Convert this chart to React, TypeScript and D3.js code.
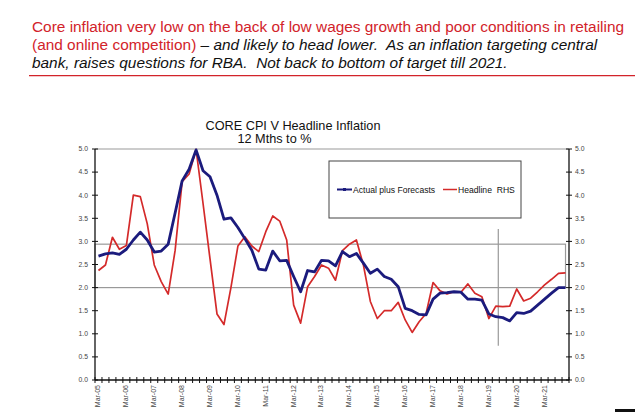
import React from "react";
import * as d3 from "d3";

const years = d3.range(2005, 2022);
const months = ["Mar", "Jun", "Sep", "Dec"];
const quarters: string[] = years.flatMap((y) => months.map((m) => `${m}-${String(y).slice(2)}`));

const coreCPI = [
  2.68, 2.73, 2.75, 2.72, 2.83, 3.03, 3.2, 3.03, 2.77, 2.79,
  2.94, 3.62, 4.31, 4.56, 4.98, 4.53, 4.4, 4.0, 3.48, 3.51,
  3.3, 3.06, 2.81, 2.4, 2.38, 2.79, 2.58, 2.59, 2.24, 1.91,
  2.37, 2.34, 2.59, 2.58, 2.47, 2.78, 2.67, 2.74, 2.53, 2.31,
  2.4, 2.24, 2.18, 2.02, 1.55, 1.5, 1.42, 1.41, 1.75, 1.88,
  1.89, 1.91, 1.9, 1.75, 1.75, 1.73, 1.43, 1.37, 1.35, 1.28,
  1.46, 1.44, 1.49, 1.62, 1.75, 1.88, 2.0, 2.0,
];

const headline = [
  2.37, 2.49, 3.09, 2.83, 2.91, 4.0, 3.97, 3.38, 2.49, 2.13,
  1.86, 2.81, 4.29, 4.46, 4.99, 3.82, 2.62, 1.43, 1.2, 2.0,
  2.9, 3.1, 2.9, 2.78, 3.21, 3.55, 3.44, 3.03, 1.62, 1.23,
  2.02, 2.24, 2.49, 2.42, 2.16, 2.8, 2.94, 3.03, 2.49, 1.7,
  1.33, 1.5, 1.5, 1.68, 1.3, 1.03, 1.26, 1.44, 2.11, 1.93,
  1.86, 1.91, 1.9, 2.08, 1.88, 1.8, 1.33, 1.6, 1.59, 1.6,
  1.97, 1.71, 1.77, 1.91, 2.06, 2.18, 2.31, 2.32,
];

const yTicks = [0, 0.5, 1, 1.5, 2, 2.5, 3, 3.5, 4, 4.5, 5];
const targetBand = [2.0, 2.94];
const forecastStart = "Sep-19";
const forecastLineRange = [0.74, 3.27];

const chartTitle = "CORE CPI V Headline Inflation";
const chartSubtitle = "12 Mths to %";
const seriesNames = ["Actual plus Forecasts", "Headline\u00A0\u00A0RHS"];

const RED = "#d2232a";
const NAVY = "#1b1b7d";
const HRED = "#d42a2a";
const FONT = "'Liberation Sans', Arial, sans-serif";

export default function App() {
  const W = 635, H = 412;
  const left = 95, right = 569, top = 149, bottom = 380;
  const x = d3.scaleBand<string>().domain(quarters).range([left, right]);
  const bw = x.bandwidth();
  const cx = (q: string) => (x(q) as number) + bw / 2;
  const y = d3.scaleLinear().domain([0, 5]).range([bottom, top]);

  const line = d3
    .line<number>()
    .x((_, i) => cx(quarters[i]))
    .y((d) => y(d));

  const tickXs = [...quarters.map((q) => x(q) as number), right];
  const lastX = cx(quarters[quarters.length - 1]);
  const fx = (x(forecastStart) as number) - 1;

  const axisLabel = { fontFamily: FONT, fontSize: 6.8, fill: "#444" } as const;

  return (
    <svg width={W} height={H} style={{ position: "absolute", left: 0, top: 0, background: "#fff" }}>
      {/* slide text */}
      <g fontFamily={FONT} fontSize={15.4}>
        <text x={32} y={31.7} fill={RED}>
          Core inflation very low on the back of low wages growth and poor conditions in retailing
        </text>
        <text x={32} y={50} fill={RED}>
          (and online competition)
          <tspan fill="#111" fontStyle="italic">{" \u2013 and likely to head lower.\u00A0 As an inflation targeting central"}</tspan>
        </text>
        <text x={32} y={68.3} fill="#111" fontStyle="italic">
          {"bank, raises questions for RBA.\u00A0 Not back to bottom of target till 2021."}
        </text>
      </g>
      <line x1={29} x2={635} y1={75.7} y2={75.7} stroke={RED} strokeWidth={1.3} />

      {/* chart title */}
      <text x={293} y={130} textAnchor="middle" fontFamily={FONT} fontSize={12.7} fill="#111">
        {chartTitle}
      </text>
      <text x={274.5} y={142.5} textAnchor="middle" fontFamily={FONT} fontSize={12.7} fill="#111">
        {chartSubtitle}
      </text>

      {/* frame top */}
      <line x1={left} x2={right} y1={top} y2={top} stroke="#999" strokeWidth={1.2} />

      {/* target band */}
      <rect
        x={left}
        y={y(targetBand[1])}
        width={lastX - left}
        height={y(targetBand[0]) - y(targetBand[1])}
        fill="none"
        stroke="#999"
        strokeWidth={1.2}
      />

      {/* forecast marker */}
      <line x1={fx} x2={fx} y1={y(forecastLineRange[1])} y2={y(forecastLineRange[0])} stroke="#999" strokeWidth={1.2} />

      {/* axes */}
      <line x1={left} x2={left} y1={top} y2={bottom} stroke="#111" strokeWidth={1.3} />
      <line x1={right} x2={right} y1={top} y2={bottom} stroke="#111" strokeWidth={1.3} />
      <line x1={left} x2={right} y1={bottom} y2={bottom} stroke="#111" strokeWidth={1.3} />

      {yTicks.map((t) => (
        <g key={"yt" + t}>
          <line x1={left - 3} x2={left + 3} y1={y(t)} y2={y(t)} stroke="#111" strokeWidth={1} />
          <line x1={right - 3} x2={right + 3} y1={y(t)} y2={y(t)} stroke="#111" strokeWidth={1} />
          <text x={88} y={y(t)} dy="0.35em" textAnchor="end" {...axisLabel}>
            {t.toFixed(1)}
          </text>
          <text x={575} y={y(t)} dy="0.35em" textAnchor="start" {...axisLabel}>
            {t.toFixed(1)}
          </text>
        </g>
      ))}

      {tickXs.map((tx, i) => (
        <line key={"xt" + i} x1={tx} x2={tx} y1={bottom - 3} y2={bottom + 3} stroke="#111" strokeWidth={1} />
      ))}
      {quarters
        .filter((q) => q.startsWith("Mar"))
        .map((q) => (
          <text
            key={"xl" + q}
            transform={`translate(${cx(q) - 0.5},385) rotate(-90)`}
            dy="0.35em"
            textAnchor="end"
            {...axisLabel}
            fontSize={7}
          >
            {q}
          </text>
        ))}

      {/* series */}
      <path d={line(headline) || ""} fill="none" stroke={HRED} strokeWidth={1.7} strokeLinejoin="round" />
      <path d={line(coreCPI) || ""} fill="none" stroke={NAVY} strokeWidth={2.8} strokeLinejoin="round" />

      {/* legend */}
      <rect x={329} y={161} width={192} height={57} fill="#fff" stroke="#444" strokeWidth={1} />
      <line x1={337} x2={352} y1={189.5} y2={189.5} stroke={NAVY} strokeWidth={2} />
      <rect x={343} y={188} width={3} height={3} fill={NAVY} />
      <text x={353} y={192.5} fontFamily={FONT} fontSize={8.6} fill="#111">
        {seriesNames[0]}
      </text>
      <line x1={443} x2={457} y1={189.5} y2={189.5} stroke={HRED} strokeWidth={1.5} />
      <text x={458} y={192.5} fontFamily={FONT} fontSize={8.6} fill="#111">
        {seriesNames[1]}
      </text>

      {/* slide corner mark */}
      <rect x={615} y={409} width={20} height={3} fill="#111" />
    </svg>
  );
}
